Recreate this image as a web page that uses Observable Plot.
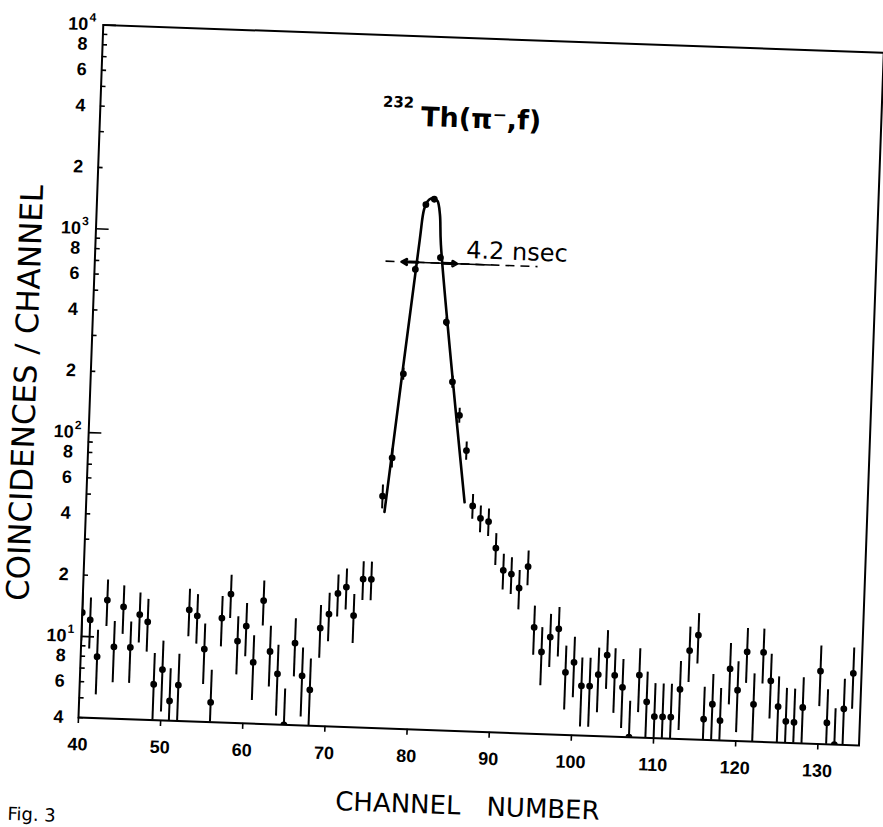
<!DOCTYPE html>
<html><head><meta charset="utf-8">
<script src="https://cdn.jsdelivr.net/npm/d3@7"></script>
<script src="https://cdn.jsdelivr.net/npm/@observablehq/plot@0.6"></script>
<style>
html,body{margin:0;padding:0;background:#fff;overflow:hidden;width:883px;height:827px}
#chart svg{overflow:visible}
</style>
</head><body><div id="chart"></div>
<script>
// Channel numbers and coincidence counts
const channels = [40,41,42,43,44,45,46,47,48,49,50,51,52,53,54,55,56,57,58,59,60,61,62,63,64,65,66,67,68,69,70,71,72,73,74,75,76,77,78,79,80,81,82,83,84,85,86,87,88,89,90,91,92,93,94,95,96,97,98,99,100,101,102,103,104,105,106,107,108,109,110,111,112,113,114,115,116,117,118,119,120,121,122,123,124,125,126,127,128,130,131,132,133,134];
const counts = [13.1,12.1,8.0,15.2,9.0,14.2,9.0,13.1,12.1,6.0,7.1,5.0,6.0,14.1,13.2,9.1,5.0,13.0,17.1,10.1,12.0,8.0,16.1,9.1,7.1,4.0,10.1,7.0,6.0,12.1,14.2,18.0,19.4,14.1,21.4,21.4,55,85,220,720,1500,1600,830,402,205,141,95,51,44.5,43,32,25,24,20.6,26.3,13.3,10.1,12.0,13.2,8.1,9.1,7.0,7.0,8.0,10.0,8.0,7.0,4.0,8.1,6.0,5.1,5.1,5.1,7.0,10.9,13.0,5.05,6.0,5.0,9.0,7.1,11.0,6.1,11.0,8.0,6.0,5.1,5.06,6.0,9.1,5.1,4.0,6.0,9.0];
const errors = [3.6,3.4,2.8,3.9,3.0,3.8,3.0,3.6,3.5,2.5,2.7,2.2,2.5,3.7,3.6,3.0,2.2,3.6,4.1,3.2,3.5,2.8,4.0,3.0,2.7,2.0,3.2,2.6,2.5,3.5,3.8,4.2,4.4,3.8,4.6,4.6,7.4,9.2,15,27,39,40,29,20,14,12,9.7,7.1,6.7,6.6,5.7,5.0,4.9,4.5,5.1,3.6,3.2,3.5,3.6,2.8,3.0,2.6,2.6,2.8,3.2,2.8,2.6,2.0,2.8,2.4,2.3,2.3,2.3,2.6,3.3,3.6,2.2,2.4,2.2,3.0,2.7,3.3,2.5,3.3,2.8,2.4,2.3,2.3,2.4,3.0,2.3,2.0,2.4,3.0];

// Hand-drawn fit curve through the prompt peak
const fitChannel = [76.3,79.4,79.8,80.2,80.6,81.0,81.4,81.75,82.0,86.0];
const fitCounts  = [46,1000,1420,1560,1610,1610,1570,1350,960,53];

// FWHM annotation
const halfMax = 780;
const fwhmLeft = 79.3, fwhmRight = 82.3;
const fwhmText = "4.2 nsec";

// Axes
const xTicks = [40,50,60,70,80,90,100,110,120,130];
const yTickValues = [4,5,6,7,8,9,10,20,30,40,50,60,70,80,90,100,200,300,400,500,600,700,800,900,1000,2000,3000,4000,5000,6000,7000,8000,9000,10000];
const yDigitTicks = [4,6,8,20,40,60,80,200,400,600,800,2000,4000,6000,8000];
const yDigitLabels = ["4","6","8","2","4","6","8","2","4","6","8","2","4","6","8"];
const yPowerTicks = [10,100,1000,10000];
const yPowerLabels = ["1","2","3","4"];

const tickFont = "Liberation Sans, Arial, sans-serif";
const textFont = "DejaVu Sans, sans-serif";

const svg = Plot.plot({
  width: 883, height: 827,
  marginLeft: 78, marginRight: 24, marginTop: 24, marginBottom: 110,
  style: {background: "white", color: "black", fontFamily: textFont, overflow: "visible"},
  x: {domain: [40, 135], axis: null},
  y: {type: "log", domain: [4, 10000], axis: null},
  marks: [
    Plot.frame({stroke: "black", strokeWidth: 2}),
    Plot.ruleY(yTickValues, {y: d => d, x1: 40, x2: d => yPowerTicks.includes(d) ? 41.6 : 40.6, stroke: "black", strokeWidth: 1.6}),
    Plot.axisX(xTicks, {tickSize: 6, tickPadding: 14, fontSize: 18, fontWeight: "bold", fontFamily: tickFont, strokeWidth: 1.6, tickFormat: d => String(d)}),
    Plot.text(yDigitTicks, {x: 40, y: d => d, text: (d, i) => yDigitLabels[i], textAnchor: "end", dx: -15, fontSize: 18, fontWeight: "bold", fontFamily: tickFont}),
    Plot.text(yPowerTicks, {x: 40, y: d => d, text: () => "10", textAnchor: "end", dx: -15, fontSize: 18, fontWeight: "bold", fontFamily: tickFont}),
    Plot.text(yPowerTicks, {x: 40, y: d => d, text: (d, i) => yPowerLabels[i], textAnchor: "start", dx: -14, dy: -7, fontSize: 12, fontWeight: "bold", fontFamily: tickFont}),
    // error bars and points
    Plot.ruleX(counts, {x: channels, y1: counts.map((v, i) => Math.max(v - errors[i], 1)), y2: counts.map((v, i) => v + errors[i]), stroke: "black", strokeWidth: 2, clip: true}),
    Plot.dot(counts, {x: channels, y: counts, r: 3.4, fill: "black", stroke: "none", clip: true}),
    // fit
    Plot.line(fitCounts, {x: fitChannel, y: fitCounts, curve: "catmull-rom", stroke: "black", strokeWidth: 2.6}),
    // half maximum line
    Plot.ruleY([halfMax], {x1: 75.4, x2: 93.9, stroke: "black", strokeWidth: 1.6, strokeDasharray: "9,6"}),
    Plot.ruleY([halfMax], {x1: 77.3, x2: 88.2, stroke: "black", strokeWidth: 1.6}),
    Plot.arrow([0, 1], {x1: [fwhmLeft, fwhmRight], x2: [77.35, 84.0], y1: [halfMax, halfMax], y2: [halfMax, halfMax], stroke: "black", strokeWidth: 3, headLength: 8}),
    Plot.text([fwhmText], {x: 85.1, y: halfMax, dy: -6, textAnchor: "start", lineAnchor: "bottom", fontSize: 24, fontFamily: textFont, ariaLabel: "fwhm"}),
    // title
    Plot.text(["232"], {frameAnchor: "top-left", dx: 313.5, dy: 71.7, textAnchor: "end", lineAnchor: "bottom", fontSize: 15, fontWeight: "bold", fontFamily: textFont, ariaLabel: "titlesup"}),
    Plot.text(["Th(π\u207B,f)"], {frameAnchor: "top-left", dx: 321, dy: 89.5, textAnchor: "start", lineAnchor: "bottom", fontSize: 27, fontWeight: "bold", fontFamily: textFont, ariaLabel: "title"}),
    // axis titles
    Plot.text(["COINCIDENCES / CHANNEL"], {frameAnchor: "left", dx: -64.3, dy: 24, rotate: -90, textAnchor: "middle", lineAnchor: "middle", fontSize: 31, fontFamily: textFont, ariaLabel: "ylabel"}),
    Plot.text(["CHANNEL\u2003NUMBER"], {frameAnchor: "bottom", dx: 1.4, dy: 75, textAnchor: "middle", lineAnchor: "middle", fontSize: 26, fontFamily: textFont, ariaLabel: "xlabel"}),
    Plot.text(["Fig. 3"], {frameAnchor: "bottom-left", dx: -67.6, dy: 92, textAnchor: "start", lineAnchor: "top", fontSize: 18, fontFamily: textFont})
  ]
});

const s = d3.select(svg);
s.selectAll("g[aria-label='ylabel'] text").attr("textLength", 381).attr("lengthAdjust", "spacingAndGlyphs");
s.selectAll("g[aria-label='xlabel'] text").attr("textLength", 290).attr("lengthAdjust", "spacingAndGlyphs");
s.selectAll("g[aria-label='title'] text").attr("textLength", 122).attr("lengthAdjust", "spacingAndGlyphs");
s.selectAll("g[aria-label='titlesup'] text").attr("textLength", 34).attr("lengthAdjust", "spacingAndGlyphs");
s.selectAll("g[aria-label='fwhm'] text").attr("textLength", 103).attr("lengthAdjust", "spacingAndGlyphs");

svg.style.transformOrigin = "78px 717px";
svg.style.transform = "rotate(2.05deg)";
document.getElementById("chart").appendChild(svg);
</script>
</body></html>
